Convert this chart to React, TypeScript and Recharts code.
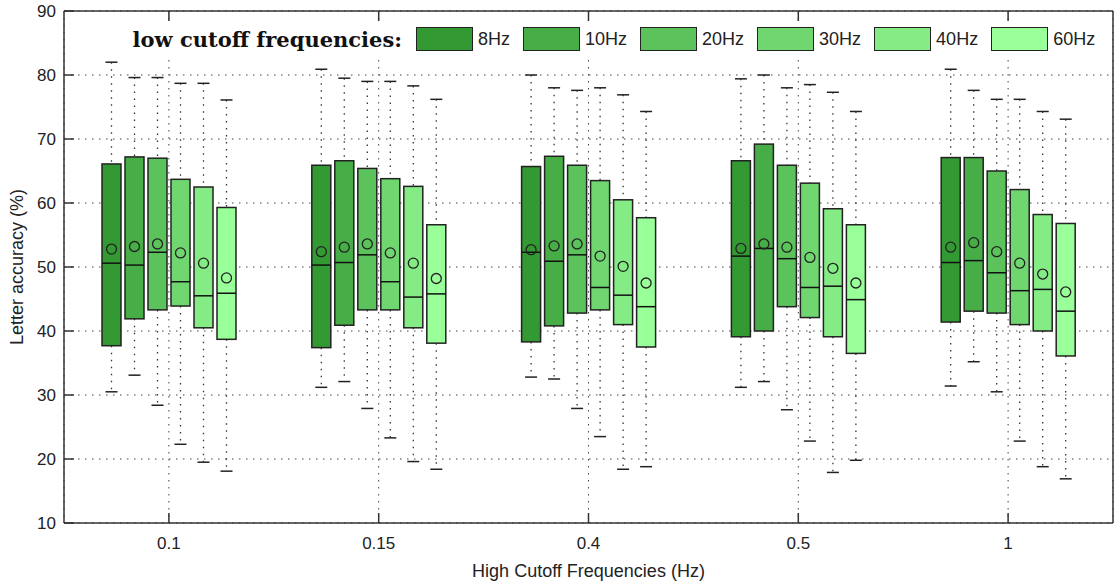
import React from 'react';
import { ComposedChart, Bar, XAxis, YAxis, CartesianGrid, Legend } from 'recharts';

const highCutoffs = ['0.1', '0.15', '0.4', '0.5', '1'];
const lowCutoffs = ['8Hz', '10Hz', '20Hz', '30Hz', '40Hz', '60Hz'];
const colors = ['#339933', '#47ad47', '#5cc25c', '#70d670', '#85eb85', '#99ff99'];
const yTicks = [10, 20, 30, 40, 50, 60, 70, 80, 90];

// one row per low cutoff, one column per high cutoff
const whiskerLow = [
  [30.5, 31.2, 32.8, 31.2, 31.4],
  [33.1, 32.1, 32.5, 32.1, 35.2],
  [28.4, 27.9, 27.9, 27.7, 30.5],
  [22.3, 23.3, 23.5, 22.8, 22.8],
  [19.5, 19.6, 18.4, 17.9, 18.8],
  [18.1, 18.4, 18.8, 19.8, 16.9],
];
const quart1 = [
  [37.7, 37.4, 38.3, 39.1, 41.4],
  [41.9, 40.9, 40.8, 40.0, 43.1],
  [43.3, 43.3, 42.8, 43.8, 42.8],
  [43.9, 43.3, 43.3, 42.1, 41.0],
  [40.5, 40.5, 41.0, 39.1, 40.0],
  [38.7, 38.1, 37.5, 36.5, 36.1],
];
const medians = [
  [50.6, 50.3, 52.3, 51.7, 50.7],
  [50.3, 50.7, 50.9, 52.9, 51.0],
  [52.3, 51.9, 51.9, 51.3, 49.1],
  [47.7, 47.7, 46.8, 46.8, 46.3],
  [45.5, 45.3, 45.6, 47.0, 46.5],
  [45.9, 45.8, 43.8, 44.9, 43.1],
];
const quart3 = [
  [66.1, 65.9, 65.7, 66.6, 67.1],
  [67.2, 66.6, 67.3, 69.2, 67.1],
  [67.0, 65.4, 65.9, 65.9, 65.0],
  [63.7, 63.8, 63.5, 63.1, 62.1],
  [62.5, 62.6, 60.5, 59.1, 58.2],
  [59.3, 56.6, 57.7, 56.6, 56.8],
];
const whiskerHigh = [
  [82.0, 80.9, 80.0, 79.4, 80.9],
  [79.6, 79.5, 78.0, 80.0, 77.6],
  [79.6, 79.0, 77.6, 78.0, 76.2],
  [78.7, 79.0, 78.0, 78.5, 76.2],
  [78.7, 78.3, 76.9, 77.3, 74.3],
  [76.1, 76.2, 74.3, 74.3, 73.1],
];
const means = [
  [52.8, 52.4, 52.7, 52.9, 53.1],
  [53.2, 53.1, 53.3, 53.6, 53.8],
  [53.6, 53.6, 53.6, 53.1, 52.4],
  [52.2, 52.2, 51.7, 51.5, 50.6],
  [50.6, 50.6, 50.1, 49.8, 48.9],
  [48.3, 48.2, 47.5, 47.5, 46.1],
];

const data = highCutoffs.map((g, j) => {
  const row: any = { group: g };
  lowCutoffs.forEach((s, i) => {
    row[s] = [whiskerLow[i][j], whiskerHigh[i][j]];
    row[s + '_stats'] = {
      min: whiskerLow[i][j],
      q1: quart1[i][j],
      med: medians[i][j],
      q3: quart3[i][j],
      max: whiskerHigh[i][j],
      mean: means[i][j],
    };
  });
  return row;
});

const ink = '#222';
const dots = '1.5 5.5';

function BoxShape(props: any) {
  const { x, y, width, height, fill, stats } = props;
  if (!stats) return null;
  const top = Math.min(y, y + height);
  const h = Math.abs(height);
  // bar spans min..max, so map the other stats linearly inside it
  const toY = (v: number) => top + (h * (stats.max - v)) / (stats.max - stats.min);
  const cx = x + width / 2;
  const yq1 = toY(stats.q1);
  const yq3 = toY(stats.q3);
  return (
    <g>
      <line x1={cx} x2={cx} y1={toY(stats.max)} y2={yq3} stroke="#333" strokeWidth={1.3} strokeDasharray={dots} />
      <line x1={cx} x2={cx} y1={yq1} y2={toY(stats.min)} stroke="#333" strokeWidth={1.3} strokeDasharray={dots} />
      <line x1={cx - 6} x2={cx + 6} y1={toY(stats.max)} y2={toY(stats.max)} stroke={ink} strokeWidth={1.5} />
      <line x1={cx - 6} x2={cx + 6} y1={toY(stats.min)} y2={toY(stats.min)} stroke={ink} strokeWidth={1.5} />
      <rect x={x} y={yq3} width={width} height={yq1 - yq3} fill={fill} stroke={ink} strokeWidth={1.5} />
      <line x1={x} x2={x + width} y1={toY(stats.med)} y2={toY(stats.med)} stroke="#111" strokeWidth={1.5} />
      <circle cx={cx} cy={toY(stats.mean)} r={5} fill="none" stroke={ink} strokeWidth={1.3} />
    </g>
  );
}

const renderLegend = (props: any) => {
  const items = [...(props.payload || [])].sort(
    (a: any, b: any) => lowCutoffs.indexOf(a.value) - lowCutoffs.indexOf(b.value)
  );
  return (
    <div style={{ display: 'flex', alignItems: 'center', height: 34, background: '#fff' }}>
      <span
        style={{
          display: 'inline-block',
          width: 277,
          textAlign: 'right',
          whiteSpace: 'nowrap',
          fontFamily: '"DejaVu Serif", serif',
          fontWeight: 'bold',
          fontSize: 21,
          color: '#111',
          marginRight: 14,
        }}
      >
        low cutoff frequencies:
      </span>
      {items.map((p: any, i: number) => (
        <div key={p.value} style={{ display: 'flex', alignItems: 'center', marginLeft: i ? 13 : 0 }}>
          <span
            style={{
              display: 'inline-block',
              width: 57,
              height: 24,
              boxSizing: 'border-box',
              background: p.color,
              border: '1.5px solid ' + ink,
            }}
          />
          <span style={{ marginLeft: 5, fontSize: 18, color: ink }}>{p.value}</span>
        </div>
      ))}
    </div>
  );
};

const yLabel = (props: any) => {
  const vb = props.viewBox;
  const cx = 17;
  const cy = vb.y + vb.height / 2;
  return (
    <text
      x={cx}
      y={cy}
      transform={`rotate(-90 ${cx} ${cy})`}
      textAnchor="middle"
      dominantBaseline="central"
      fontSize={18}
      fill={ink}
    >
      Letter accuracy (%)
    </text>
  );
};

const noLabel = () => <g />;

export default function App() {
  return (
    <div style={{ fontFamily: '"Liberation Sans", Arial, sans-serif', width: 1117, height: 583 }}>
      <style>{'body{margin:0;}'}</style>
      <ComposedChart width={1117} height={583} data={data} margin={{ top: 10, right: 3, bottom: 0, left: 0 }}>
        <CartesianGrid stroke="#444" strokeDasharray={dots} />
        <XAxis
          dataKey="group"
          height={60}
          tickSize={-10}
          tickMargin={24}
          axisLine={{ stroke: '#333', strokeWidth: 1.5 }}
          tickLine={{ stroke: '#333', strokeWidth: 1.5 }}
          tick={{ fontSize: 17, fill: ink }}
          label={{ value: 'High Cutoff Frequencies (Hz)', position: 'insideBottom', offset: 6, fontSize: 18, fill: ink }}
        />
        <XAxis
          xAxisId="top"
          dataKey="group"
          orientation="top"
          height={1}
          tickSize={-10}
          tick={noLabel}
          axisLine={{ stroke: '#333', strokeWidth: 1.5 }}
          tickLine={{ stroke: '#333', strokeWidth: 1.5 }}
        />
        <YAxis
          type="number"
          domain={[10, 90]}
          ticks={yTicks}
          width={64}
          tickSize={-10}
          tickMargin={18}
          axisLine={{ stroke: '#333', strokeWidth: 1.5 }}
          tickLine={{ stroke: '#333', strokeWidth: 1.5 }}
          tick={{ fontSize: 17, fill: ink }}
          label={yLabel}
        />
        <YAxis
          yAxisId="right"
          orientation="right"
          type="number"
          domain={[10, 90]}
          ticks={yTicks}
          width={1}
          tickSize={-10}
          tick={noLabel}
          axisLine={{ stroke: '#333', strokeWidth: 1.5 }}
          tickLine={{ stroke: '#333', strokeWidth: 1.5 }}
        />
        <Legend
          verticalAlign="middle"
          align="center"
          layout="horizontal"
          wrapperStyle={{ top: 22, left: 125, width: 985, height: 34 }}
          content={renderLegend}
        />
        {lowCutoffs.map((s, i) => (
          <Bar
            key={s}
            dataKey={s}
            name={s}
            fill={colors[i]}
            barSize={19}
            isAnimationActive={false}
            shape={(p: any) => <BoxShape {...p} fill={colors[i]} stats={p.payload[s + '_stats']} />}
          />
        ))}
      </ComposedChart>
    </div>
  );
}
